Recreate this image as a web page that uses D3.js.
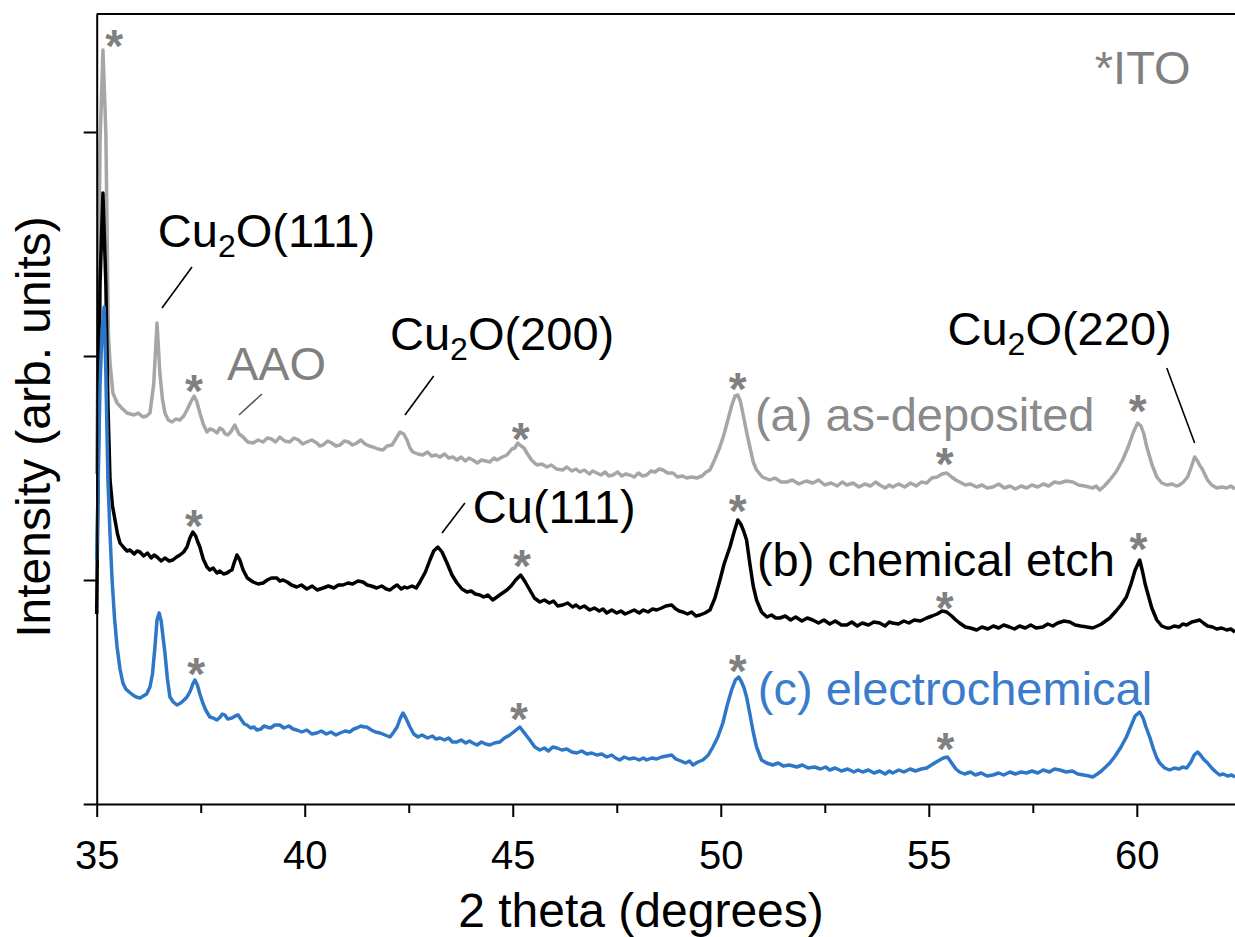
<!DOCTYPE html>
<html>
<head>
<meta charset="utf-8">
<script src="https://cdn.jsdelivr.net/npm/d3@7"></script>
<style>
  body { margin: 0; background: #fff; }
  text { font-family: "Liberation Sans", Arial, sans-serif; }
</style>
</head>
<body>
<script>
// 2 theta (deg) and intensity (arb. units)
var aTheta = [35.00,35.08,35.15,35.22,35.28,35.32,35.39,35.49,35.60,35.73,35.90,36.00,36.11,36.20,36.28,36.37,36.45,36.52,36.58,36.64,36.72,36.81,36.90,37.00,37.09,37.17,37.26,37.34,37.41,37.48,37.56,37.65,37.72,37.80,37.89,37.96,38.03,38.09,38.15,38.22,38.32,38.42,38.52,38.63,38.76,38.88,39.00,39.10,39.20,39.30,39.40,39.52,39.64,39.74,39.85,39.95,40.05,40.17,40.29,40.36,40.44,40.55,40.65,40.75,40.85,40.95,41.05,41.15,41.25,41.35,41.45,41.55,41.64,41.76,41.88,41.98,42.10,42.20,42.29,42.38,42.46,42.53,42.60,42.72,42.84,42.95,43.05,43.15,43.25,43.36,43.46,43.56,43.66,43.76,43.86,43.95,44.04,44.15,44.25,44.35,44.45,44.55,44.62,44.75,44.86,44.98,45.05,45.12,45.20,45.27,45.34,45.45,45.58,45.70,45.82,45.93,46.05,46.20,46.30,46.42,46.52,46.61,46.72,46.84,46.92,47.02,47.12,47.22,47.31,47.41,47.52,47.62,47.71,47.81,47.92,48.02,48.12,48.22,48.32,48.42,48.52,48.61,48.72,48.85,48.96,49.08,49.18,49.30,49.42,49.55,49.65,49.74,49.86,49.98,50.08,50.17,50.26,50.34,50.41,50.47,50.53,50.62,50.70,50.78,50.86,51.00,51.18,51.30,51.45,51.59,51.72,51.88,52.05,52.21,52.35,52.50,52.65,52.80,52.92,53.03,53.18,53.32,53.46,53.60,53.72,53.82,53.95,54.05,54.13,54.28,54.42,54.56,54.70,54.82,54.95,55.07,55.20,55.32,55.43,55.55,55.65,55.74,55.88,56.00,56.15,56.28,56.40,56.54,56.68,56.82,56.95,57.08,57.22,57.35,57.48,57.62,57.75,57.88,58.02,58.15,58.30,58.46,58.60,58.75,58.94,59.02,59.11,59.22,59.35,59.50,59.66,59.80,59.92,60.02,60.10,60.17,60.24,60.36,60.48,60.60,60.72,60.85,60.95,61.03,61.12,61.22,61.30,61.39,61.46,61.52,61.56,61.63,61.70,61.80,61.92,62.04,62.16,62.26,62.36];
var aInt = [330,660,754,671,471,441,411,401,396,391,389,391,387,388,391,420,481,430,405,391,384,382,385,384,388,394,402,408,402,391,380,372,375,374,371,376,374,370,369,372,379,370,367,362,361,364,362,366,365,362,367,363,362,366,364,360,362,364,361,358,359,363,361,358,359,363,362,359,361,364,360,358,357,355,354,358,359,366,372,370,364,356,352,350,349,352,348,349,347,350,346,347,344,347,343,346,344,341,344,343,342,346,344,347,349,355,356,361,358,356,351,344,339,340,337,339,335,334,337,333,335,332,334,330,333,331,329,332,328,329,332,328,330,329,327,331,328,329,333,332,335,334,331,331,327,328,326,327,326,328,332,334,345,357,370,384,398,408,409,403,391,372,357,342,334,327,324,326,322,322,324,320,323,321,324,319,321,318,322,319,321,317,320,318,322,319,316,319,317,320,317,321,318,322,321,326,327,330,331,327,324,322,319,320,317,319,316,317,320,316,318,315,318,316,319,317,320,318,322,321,323,322,319,318,316,318,314,318,324,332,344,358,372,381,378,370,357,340,327,321,319,320,318,319,322,327,336,347,343,338,336,330,324,319,316,317,316,318,315];

var bTheta = [35.00,35.08,35.15,35.22,35.27,35.32,35.38,35.44,35.50,35.56,35.66,35.73,35.80,35.90,35.97,36.04,36.13,36.22,36.31,36.38,36.45,36.55,36.64,36.74,36.83,36.92,37.00,37.09,37.17,37.24,37.31,37.38,37.43,37.48,37.56,37.65,37.72,37.80,37.89,37.96,38.05,38.13,38.20,38.25,38.31,38.37,38.44,38.52,38.62,38.69,38.76,38.88,39.00,39.10,39.20,39.33,39.40,39.48,39.58,39.68,39.81,39.92,40.05,40.18,40.30,40.44,40.57,40.70,40.81,40.92,41.04,41.15,41.28,41.40,41.50,41.60,41.73,41.85,41.96,42.05,42.14,42.22,42.32,42.40,42.46,42.58,42.68,42.77,42.90,43.01,43.10,43.20,43.30,43.42,43.54,43.66,43.78,43.90,44.00,44.10,44.21,44.30,44.40,44.52,44.62,44.72,44.86,44.96,45.07,45.19,45.30,45.41,45.52,45.65,45.76,45.88,45.98,46.08,46.20,46.32,46.44,46.52,46.61,46.72,46.85,46.96,47.08,47.17,47.26,47.38,47.50,47.60,47.70,47.81,47.92,48.04,48.14,48.25,48.36,48.46,48.58,48.68,48.82,48.92,49.00,49.09,49.20,49.30,49.40,49.50,49.62,49.74,49.86,49.98,50.08,50.22,50.32,50.41,50.48,50.55,50.62,50.70,50.78,50.86,50.98,51.11,51.22,51.32,51.42,51.55,51.68,51.80,51.95,52.08,52.21,52.35,52.48,52.62,52.75,52.90,53.03,53.15,53.28,53.40,53.55,53.68,53.82,53.95,54.05,54.13,54.27,54.40,54.52,54.65,54.80,54.95,55.08,55.20,55.32,55.43,55.55,55.65,55.74,55.88,56.00,56.15,56.28,56.42,56.55,56.68,56.80,56.94,57.06,57.18,57.32,57.45,57.58,57.74,57.86,57.98,58.10,58.25,58.39,58.52,58.65,58.80,58.94,59.05,59.15,59.25,59.35,59.50,59.62,59.75,59.86,59.96,60.07,60.14,60.20,60.26,60.36,60.48,60.60,60.72,60.79,60.90,61.02,61.10,61.20,61.32,61.42,61.51,61.60,61.70,61.82,61.92,62.04,62.16,62.26,62.36];
var bInt = [190,520,611,520,400,324,298,284,270,261,256,253,254,250,253,252,248,251,246,249,247,243,246,243,244,247,249,252,257,266,272,268,262,257,245,237,234,236,231,233,230,231,233,234,242,249,244,234,226,224,222,220,221,224,226,226,223,224,222,219,217,219,215,218,214,216,218,216,219,219,221,220,223,222,219,218,216,218,215,214,217,219,215,217,216,218,216,222,232,244,253,257,252,241,229,221,215,212,213,210,209,207,209,204,207,210,214,218,224,229,222,214,206,202,204,201,203,198,199,201,197,199,196,198,194,196,193,195,191,194,191,193,190,192,194,191,194,192,195,194,196,198,199,195,193,192,190,192,188,189,191,194,206,224,240,257,272,284,280,273,264,240,218,204,192,187,189,186,186,188,184,187,183,186,184,181,184,180,183,179,179,182,178,181,179,182,181,178,182,181,180,183,181,184,183,186,188,190,193,192,188,184,181,177,176,174,177,175,178,176,179,177,175,178,176,179,176,177,180,178,181,183,182,179,178,177,176,178,180,183,186,193,199,207,220,234,244,232,220,211,196,184,178,176,176,178,177,180,179,182,183,184,181,178,177,175,176,174,175,172];

var cTheta = [35.00,35.08,35.13,35.18,35.22,35.27,35.32,35.37,35.43,35.49,35.56,35.63,35.70,35.78,35.87,35.95,36.04,36.12,36.20,36.28,36.34,36.40,36.45,36.50,36.55,36.60,36.64,36.70,36.76,36.84,36.93,37.02,37.10,37.17,37.25,37.31,37.36,37.42,37.48,37.55,37.62,37.72,37.80,37.89,37.97,38.02,38.08,38.15,38.25,38.33,38.40,38.48,38.55,38.61,38.70,38.78,38.85,38.95,39.02,39.09,39.18,39.28,39.40,39.50,39.62,39.72,39.81,39.93,40.05,40.17,40.29,40.40,40.52,40.63,40.75,40.85,40.97,41.08,41.18,41.25,41.35,41.43,41.49,41.60,41.70,41.81,41.93,42.05,42.14,42.22,42.30,42.36,42.43,42.53,42.62,42.72,42.82,42.95,43.07,43.15,43.25,43.36,43.46,43.55,43.66,43.76,43.87,43.96,44.04,44.14,44.25,44.35,44.45,44.56,44.69,44.80,44.93,45.05,45.17,45.28,45.41,45.53,45.65,45.76,45.86,45.96,46.06,46.18,46.30,46.42,46.54,46.66,46.78,46.90,47.02,47.14,47.26,47.38,47.47,47.57,47.68,47.80,47.92,48.04,48.14,48.22,48.34,48.46,48.58,48.70,48.82,48.92,49.04,49.15,49.25,49.33,49.45,49.57,49.70,49.81,49.93,50.05,50.15,50.26,50.35,50.43,50.50,50.56,50.62,50.70,50.77,50.86,50.98,51.10,51.25,51.38,51.50,51.65,51.83,51.96,52.10,52.25,52.40,52.52,52.62,52.75,52.90,53.05,53.20,53.30,53.41,53.55,53.68,53.82,53.95,54.05,54.13,54.28,54.40,54.55,54.68,54.82,54.95,55.10,55.22,55.35,55.45,55.55,55.65,55.74,55.86,56.00,56.12,56.26,56.40,56.54,56.68,56.80,56.95,57.08,57.22,57.35,57.48,57.62,57.75,57.90,58.02,58.15,58.30,58.45,58.58,58.72,58.85,58.94,59.05,59.15,59.25,59.35,59.48,59.62,59.75,59.86,59.96,60.07,60.15,60.22,60.31,60.40,60.48,60.55,60.67,60.79,60.90,61.02,61.10,61.20,61.30,61.38,61.46,61.53,61.60,61.70,61.80,61.90,61.99,62.08,62.18,62.28,62.36];
var cInt = [244,420,475,497,430,324,270,224,185,157,135,121,115,112,109,107,106,108,110,117,130,157,184,191,183,165,151,125,107,102,99,101,104,107,113,120,124,119,110,101,94,87,86,84,87,90,89,85,86,88,89,84,80,79,76,77,74,75,78,77,76,79,79,76,78,75,74,72,74,70,71,73,70,72,69,71,73,72,75,76,78,77,77,74,72,71,69,67,72,77,86,91,86,77,70,67,69,66,68,65,66,64,66,62,62,64,61,63,61,59,62,60,59,61,62,66,69,73,77,71,64,57,54,56,53,57,56,54,55,52,51,53,50,51,49,50,47,49,46,44,47,45,46,44,46,44,46,45,47,48,49,45,43,41,43,39,42,44,49,57,67,81,98,114,124,127,122,116,107,90,74,57,44,41,39,41,38,39,37,39,36,37,35,37,34,36,33,35,32,34,32,34,31,33,30,33,31,34,32,35,33,35,36,40,43,46,47,41,35,32,30,32,29,31,28,29,31,29,32,30,32,31,33,31,34,32,35,34,32,33,30,29,28,27,30,33,37,41,48,57,67,78,88,92,86,77,67,55,46,41,36,34,36,35,37,36,42,49,52,49,45,41,36,32,29,30,28,29,27];

var seriesNames = ["(a) as-deposited", "(b) chemical etch", "(c) electrochemical"];
var xTicks = [35, 40, 45, 50, 55, 60];
var xMinorTicks = [37.5, 42.5, 47.5, 52.5, 57.5];
var yTicks = [0, 224, 448, 672];

// ITO reflection markers (theta, intensity just above each peak)
var starTheta = [35.42, 37.34, 45.19, 50.41, 55.38, 60.02, 37.34, 45.22, 50.41, 55.38, 60.04, 37.39, 45.15, 50.41, 55.40];
var starInt = [769, 424, 376, 426, 351, 404, 289, 249, 304, 207, 266, 141, 96, 144, 66];

var width = 1235, height = 937;
var margin = { top: 14, right: 0, bottom: 133, left: 96.7 };

var svg = d3.select("body").append("svg")
    .attr("width", width)
    .attr("height", height);

var x = d3.scaleLinear()
    .domain([35, 62.36])
    .range([margin.left, width - margin.right]);

var y = d3.scaleLinear()
    .domain([0, 790])
    .range([height - margin.bottom, margin.top]);

var colors = ["#a6a6a6", "#000000", "#2e77c8"];
var labelColors = ["#8a8a8a", "#000000", "#3a7ccb"];
var thetas = [aTheta, bTheta, cTheta];
var ints = [aInt, bInt, cInt];

var line = d3.line()
    .x(function(d) { return x(d[0]); })
    .y(function(d) { return y(d[1]); });

var plot = svg.append("g");

thetas.forEach(function(t, i) {
  var pts = t.map(function(v, k) { return [v, ints[i][k]]; });
  plot.append("path")
      .datum(pts)
      .attr("fill", "none")
      .attr("stroke", colors[i])
      .attr("stroke-width", 3.5)
      .attr("stroke-linejoin", "round")
      .attr("d", line);
});

// axes
var xAxis = svg.append("g")
    .attr("transform", "translate(0," + y(0) + ")")
    .call(d3.axisBottom(x).tickValues(xTicks).tickSize(13).tickSizeOuter(0).tickPadding(24));

svg.append("g")
    .attr("transform", "translate(0," + y(0) + ")")
    .call(d3.axisBottom(x).tickValues(xMinorTicks).tickSize(9).tickSizeOuter(0).tickFormat(""))
    .select(".domain").remove();

var yAxis = svg.append("g")
    .attr("transform", "translate(" + x(35) + ",0)")
    .call(d3.axisLeft(y).tickValues(yTicks).tickSize(13).tickSizeOuter(0).tickFormat(""));

svg.selectAll(".domain").attr("stroke-width", 2);
svg.selectAll(".tick line").attr("stroke-width", 2);
xAxis.selectAll("text")
    .style("font-size", "40px")
    .style("fill", "#000");

// top frame
svg.append("line")
    .attr("x1", x(35)).attr("x2", width)
    .attr("y1", y(790)).attr("y2", y(790))
    .attr("stroke", "#000")
    .attr("stroke-width", 2);

svg.append("text")
    .attr("x", 641)
    .attr("y", 927)
    .attr("text-anchor", "middle")
    .style("font-size", "48px")
    .text("2 theta (degrees)");

svg.append("text")
    .attr("transform", "translate(50," + 427 + ") rotate(-90)")
    .attr("text-anchor", "middle")
    .style("font-size", "48px")
    .text("Intensity (arb. units)");

// ITO asterisks
svg.selectAll(".star")
    .data(starTheta)
    .enter().append("text")
    .attr("class", "star")
    .attr("x", function(d) { return x(d); })
    .attr("y", function(d, i) { return y(starInt[i]) + 27; })
    .attr("text-anchor", "middle")
    .style("font-size", "46px")
    .style("font-weight", "bold")
    .style("fill", "#808080")
    .text("*");

svg.append("text")
    .attr("x", x(58.99))
    .attr("y", y(720))
    .style("font-size", "47px")
    .style("fill", "#808080")
    .text("*ITO");

// series labels
var labelTheta = [50.82, 50.87, 50.89];
var labelInt = [373, 228, 99];
seriesNames.forEach(function(s, i) {
  svg.append("text")
      .attr("x", x(labelTheta[i]))
      .attr("y", y(labelInt[i]))
      .style("font-size", "47px")
      .style("fill", labelColors[i])
      .text(s);
});

// peak labels, Cu2O with subscript
function cu2o(theta, inten, hkl) {
  var t = svg.append("text")
      .attr("x", x(theta))
      .attr("y", y(inten))
      .style("font-size", "47px");
  t.append("tspan").text("Cu");
  t.append("tspan").attr("dy", 10).style("font-size", "32px").text("2");
  t.append("tspan").attr("dy", -10).text("O(" + hkl + ")");
}
cu2o(36.47, 557, "111");
cu2o(42.05, 454, "200");
cu2o(55.45, 459, "220");

svg.append("text")
    .attr("x", x(44.04))
    .attr("y", y(281))
    .style("font-size", "47px")
    .text("Cu(111)");

svg.append("text")
    .attr("x", x(38.13))
    .attr("y", y(424))
    .style("font-size", "47px")
    .style("fill", "#808080")
    .text("AAO");

// leader lines
var leaders = [
  [37.29, 537, 36.57, 496, "#000"],
  [38.97, 410, 38.42, 389, "#555"],
  [43.10, 428, 42.41, 389, "#000"],
  [43.85, 301, 43.30, 271, "#000"],
  [60.72, 436, 61.39, 361, "#000"]
];
leaders.forEach(function(l) {
  svg.append("line")
      .attr("x1", x(l[0])).attr("y1", y(l[1]))
      .attr("x2", x(l[2])).attr("y2", y(l[3]))
      .attr("stroke", l[4])
      .attr("stroke-width", 1.6);
});
</script>
</body>
</html>
